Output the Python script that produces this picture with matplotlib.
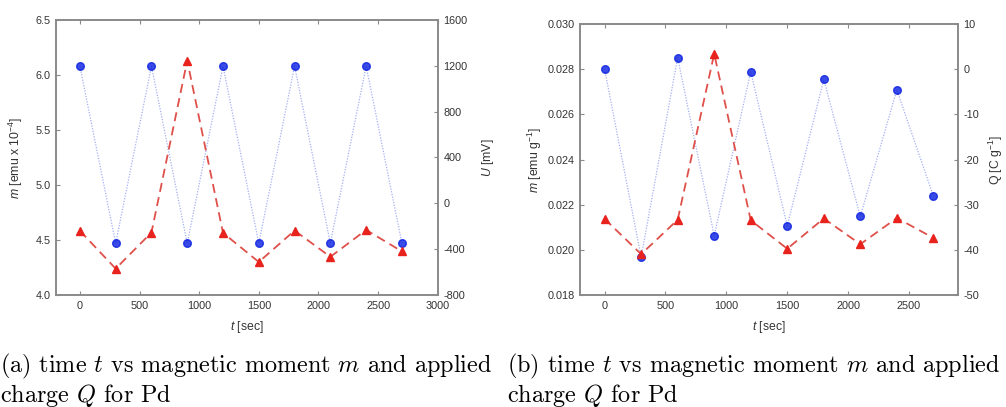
import matplotlib
matplotlib.use("Agg")
import matplotlib.pyplot as plt

plt.rcParams["font.family"] = ["Liberation Sans", "DejaVu Sans"]
plt.rcParams["mathtext.fontset"] = "custom"
plt.rcParams["mathtext.rm"] = "Liberation Sans"
plt.rcParams["mathtext.it"] = "Liberation Sans:italic"
plt.rcParams["axes.unicode_minus"] = False

# time steps (s)
t = [0, 300, 600, 900, 1200, 1500, 1800, 2100, 2400, 2700]

# panel (a): magnetic moment (emu x 1e-4) and potential (mV)
m_a = [6.08, 4.47, 6.08, 4.47, 6.08, 4.47, 6.08, 4.47, 6.08, 4.47]
U_a = [-240, -570, -255, 1245, -258, -512, -238, -467, -232, -420]

# panel (b): specific moment (emu/g) and specific charge (C/g)
m_b = [0.0280, 0.01969, 0.02851, 0.02064, 0.02789, 0.02107, 0.02755, 0.02149, 0.02709, 0.02239]
Q_b = [-33.1, -40.9, -33.3, 3.4, -33.4, -39.7, -33.0, -38.7, -32.9, -37.3]

xticks_a = [0, 500, 1000, 1500, 2000, 2500, 3000]
xticks_b = [0, 500, 1000, 1500, 2000, 2500]
yticks_m_a = [4.0, 4.5, 5.0, 5.5, 6.0, 6.5]
yticks_U_a = [-800, -400, 0, 400, 800, 1200, 1600]
yticks_m_b = [0.018, 0.020, 0.022, 0.024, 0.026, 0.028, 0.030]
yticks_Q_b = [-50, -40, -30, -20, -10, 0, 10]

SPINE = "#8a8a8a"
TXT = "#333333"
BLUE = "#0a1fe0"
RED = "#e8231e"
FS = 7.8

fig = plt.figure(figsize=(10.06, 4.07), dpi=100)


def style(ax, twin):
    for sp in ax.spines.values():
        sp.set_color(SPINE)
        sp.set_linewidth(1.2)
    ax.tick_params(axis="both", direction="in", length=3, width=0.8,
                   color=SPINE, labelcolor=TXT, labelsize=FS, pad=4)
    ax.tick_params(axis="x", top=True)
    twin.tick_params(axis="y", direction="in", length=3, width=0.8,
                     color=SPINE, labelcolor=TXT, labelsize=FS, pad=4)
    for sp in twin.spines.values():
        sp.set_color(SPINE)
        sp.set_linewidth(1.2)


def panel(rect, m, q, xlim, xticks, ylim, yticks, ylim2, yticks2, yfmt,
          ylabel, y2label, y2label_x, ylabel_x):
    ax = fig.add_axes(rect)
    ax2 = ax.twinx()
    ax.plot(t, m, ls=(0, (1, 1.2)), lw=0.9, color="#8c9cf0", alpha=0.8,
            marker="o", ms=5.5, mfc=BLUE, mec=BLUE, zorder=3)
    ax2.plot(t, q, ls=(0, (5, 3)), lw=1.3, color="#e0504a",
             marker="^", ms=5.5, mfc=RED, mec=RED, zorder=3)
    ax.set_xlim(*xlim)
    ax.set_xticks(xticks)
    ax.set_ylim(*ylim)
    ax.set_yticks(yticks)
    ax.set_yticklabels([yfmt.format(v) for v in yticks])
    ax2.set_ylim(*ylim2)
    ax2.set_yticks(yticks2)
    style(ax, ax2)
    ax.set_xlabel("$t$ [sec]", fontsize=8.8, color=TXT, labelpad=6)
    ax.set_ylabel(ylabel, fontsize=8.8, color=TXT)
    ax.yaxis.set_label_coords(ylabel_x, 0.5)
    ax2.set_ylabel(y2label, fontsize=8.8, color=TXT)
    ax2.yaxis.set_label_coords(y2label_x, 0.5)
    return ax, ax2


panel([0.0557, 0.2752, 0.3794, 0.6757], m_a, U_a, (-200, 3000), xticks_a,
      (4.0, 6.5), yticks_m_a, (-800, 1600), yticks_U_a, "{:.1f}",
      "$m$ [emu x 10$^{-4}$]", "$U$ [mV]", 1.111, -0.081)

panel([0.5768, 0.2744, 0.3752, 0.6666], m_b, Q_b, (-200, 2900), xticks_b,
      (0.018, 0.030), yticks_m_b, (-50, 10), yticks_Q_b, "{:.3f}",
      "$m$ [emu g$^{-1}$]", "Q [C g$^{-1}$]", 1.076, -0.096)

cap = dict(fontfamily="cmr10", math_fontfamily="cm", fontsize=17.4,
           color="black", va="baseline", ha="left")
fig.text(0.0, 1 - 372 / 407, "(a) time $t$ vs magnetic moment $m$ and applied", **cap)
fig.text(0.0, 1 - 402 / 407, "charge $Q$ for Pd", **cap)
fig.text(507 / 1006, 1 - 372 / 407, "(b) time $t$ vs magnetic moment $m$ and applied", **cap)
fig.text(507 / 1006, 1 - 402 / 407, "charge $Q$ for Pd", **cap)

fig.savefig("out.png", dpi=100)
